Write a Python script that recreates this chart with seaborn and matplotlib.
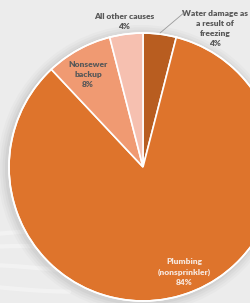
import numpy as np
import seaborn as sns
import matplotlib.pyplot as plt
from matplotlib.patches import Circle

# Dữ liệu
labels = ['Water damage as\na result of\nfreezing', 'Plumbing\n(nonsprinkler)', 'Nonsewer\nbackup', 'All other causes']
values = [4, 84, 8, 4]
pct_labels = ['4%', '84%', '8%', '4%']
colors = ['#b85d20', '#de742c', '#f09a72', '#f6c0b0']

sns.set_style("white")
plt.rcParams['font.family'] = ['Lato', 'DejaVu Sans']

fig = plt.figure(figsize=(2.5, 3.03), dpi=100)
fig.patch.set_facecolor('#ececec')
ax = fig.add_axes([0, 0, 1, 1])
ax.set_facecolor('#ececec')

# vệt trắng mờ ở nền
for i, yy in enumerate([-0.5, -0.62, -0.76, -0.9]):
    xs = np.linspace(-1.1, -0.55, 50)
    ax.plot(xs, yy + 0.03 * np.sin((xs + 1.1) * 3 + i), color='white', lw=3, alpha=0.35, zorder=0)

# bóng đổ
for k, a in enumerate([0.04, 0.05, 0.06, 0.08]):
    ax.add_patch(Circle((-0.012, -0.012), 1.0 + 0.018 * (4 - k), color='#777777', alpha=a, lw=0, zorder=1))

wedges, _ = ax.pie(values, colors=colors, startangle=90, counterclock=False, radius=1.0,
                   wedgeprops=dict(edgecolor='white', linewidth=1.2))
for w in wedges:
    w.set_zorder(2)
ax.add_patch(Circle((0, 0), 1.0, fill=False, edgecolor='white', lw=1.2, zorder=3))

# nhãn
txt = dict(fontsize=6.0, fontweight='heavy', color='#585858', ha='center', va='center', linespacing=1.5)
ax.text(-0.142, 1.086, labels[3] + '\n' + pct_labels[3], **txt)
ax.text(-0.41, 0.694, labels[2] + '\n' + pct_labels[2], **txt)
ax.text(0.54, 1.037, labels[0] + '\n' + pct_labels[0], **txt)
ax.plot([0.127, 0.313], [1.0, 1.157], color='#9a9a9a', lw=0.6, zorder=4)
txt['color'] = '#f7e6dc'
ax.text(0.306, -0.784, labels[1] + '\n' + pct_labels[1], **txt)

ax.set_xlim(-143 / 134, 107 / 134)
ax.set_ylim(-136 / 134, 167 / 134)
ax.set_aspect('auto')
ax.axis('off')

plt.savefig('out.png', dpi=100, facecolor=fig.get_facecolor())
